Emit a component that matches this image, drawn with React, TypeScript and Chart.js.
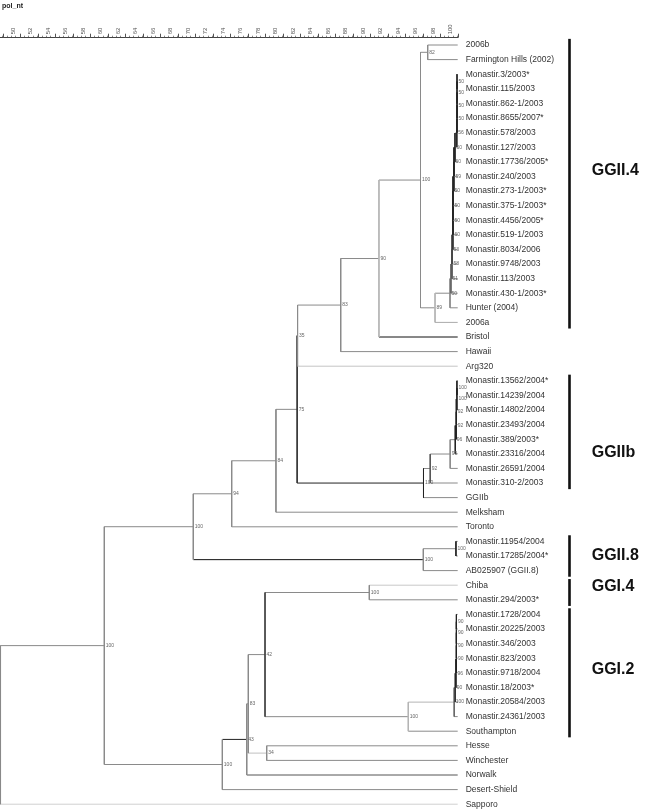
import React, { useEffect, useRef } from "react";
import { Chart, registerables } from "chart.js";

Chart.register(...registerables);

const TITLE = "pol_nt";

// Leaves, top to bottom
const LEAVES: string[] = [
  "2006b",
  "Farmington Hills (2002)",
  "Monastir.3/2003*",
  "Monastir.115/2003",
  "Monastir.862-1/2003",
  "Monastir.8655/2007*",
  "Monastir.578/2003",
  "Monastir.127/2003",
  "Monastir.17736/2005*",
  "Monastir.240/2003",
  "Monastir.273-1/2003*",
  "Monastir.375-1/2003*",
  "Monastir.4456/2005*",
  "Monastir.519-1/2003",
  "Monastir.8034/2006",
  "Monastir.9748/2003",
  "Monastir.113/2003",
  "Monastir.430-1/2003*",
  "Hunter (2004)",
  "2006a",
  "Bristol",
  "Hawaii",
  "Arg320",
  "Monastir.13562/2004*",
  "Monastir.14239/2004",
  "Monastir.14802/2004",
  "Monastir.23493/2004",
  "Monastir.389/2003*",
  "Monastir.23316/2004",
  "Monastir.26591/2004",
  "Monastir.310-2/2003",
  "GGIIb",
  "Melksham",
  "Toronto",
  "Monastir.11954/2004",
  "Monastir.17285/2004*",
  "AB025907 (GGII.8)",
  "Chiba",
  "Monastir.294/2003*",
  "Monastir.1728/2004",
  "Monastir.20225/2003",
  "Monastir.346/2003",
  "Monastir.823/2003",
  "Monastir.9718/2004",
  "Monastir.18/2003*",
  "Monastir.20584/2003",
  "Monastir.24361/2003",
  "Southampton",
  "Hesse",
  "Winchester",
  "Norwalk",
  "Desert-Shield",
  "Sapporo",
];

// Internal nodes: id, children (leaf index or node id), similarity level (%), node label
const NODE_IDS: string[] = [
  "c1", "c2", "c3", "c4", "c5", "c6", "c7", "c8", "c9", "c10", "c11", "c12", "c13", "c14", "c15", "c16",
  "h89", "h82", "hX", "h90", "h83", "h35",
  "b1", "b2", "b3", "b4", "b5", "b6", "b7", "b8",
  "h75", "h84", "h94", "g8a", "g8b", "hP", "g4",
  "e1", "e2", "e3", "e4", "e5", "e6", "e7",
  "hF", "hC", "hD", "hB", "hA", "hQ", "hR", "root",
];
const NODE_CHILDREN: [number | string, number | string][] = [
  [2, 3], ["c1", 4], ["c2", 5], ["c3", 6], ["c4", 7], ["c5", 8], ["c6", 9], ["c7", 10],
  ["c8", 11], ["c9", 12], ["c10", 13], ["c11", 14], ["c12", 15], ["c13", 16], ["c14", 17], ["c15", 18],
  ["c16", 19], [0, 1], ["h82", "h89"], ["hX", 20], ["h90", 21], ["h83", 22],
  [23, 24], ["b1", 25], ["b2", 26], ["b3", 27], ["b4", 28], ["b5", 29], ["b6", 30], ["b7", 31],
  ["h35", "b8"], ["h75", 32], ["h84", 33], [34, 35], ["g8a", 36], ["h94", "g8b"], [37, 38],
  [39, 40], ["e1", 41], ["e2", 42], ["e3", 43], ["e4", 44], ["e5", 45], ["e6", 46],
  ["e7", 47], ["g4", "hF"], [48, 49], ["hC", "hD"], ["hB", 50], ["hA", 51], ["hP", "hQ"], ["hR", 52],
];
const NODE_LEVELS: number[] = [
  99.92, 99.92, 99.92, 99.92, 99.9, 99.69, 99.57, 99.57, 99.46, 99.46, 99.46, 99.46, 99.35, 99.35, 99.23, 99.12,
  97.41, 96.57, 95.75, 91.0, 86.63, 81.7,
  99.91, 99.91, 99.84, 99.84, 99.72, 99.14, 96.86, 96.09,
  81.65, 79.23, 74.17, 99.8, 96.07, 69.78, 89.9,
  99.85, 99.85, 99.85, 99.85, 99.8, 99.72, 99.6,
  94.35, 77.98, 78.17, 76.07, 75.89, 73.1, 59.61, 47.75,
];
const NODE_SUPPORT: string[] = [
  "50", "50", "50", "50", "56", "50", "60", "59", "50", "50", "50", "60", "53", "58", "51", "50",
  "89", "82", "100", "90", "83", "35",
  "100", "100", "92", "92", "96", "99", "92", "100",
  "75", "84", "94", "100", "100", "100", "100",
  "90", "90", "90", "90", "96", "90", "100",
  "100", "42", "34", "83", "43", "100", "100", "",
];

const X_TICK_LABELS: number[] = [
  48, 50, 52, 54, 56, 58, 60, 62, 64, 66, 68, 70, 72, 74, 76, 78, 80, 82, 84, 86, 88, 90, 92, 94, 96, 98, 100,
];

const GROUP_NAMES: string[] = ["GGII.4", "GGIIb", "GGII.8", "GGI.4", "GGI.2"];
const GROUP_FIRST_LEAF: number[] = [0, 23, 34, 37, 39];
const GROUP_LAST_LEAF: number[] = [19, 30, 36, 38, 47];

// ---- layout / style (not data) ----
const W = 651;
const H = 809;
const PLOT_RIGHT = 457.7;
const AXIS_Y = 37.7;
const GROUP_LABEL_ROW = [8.6, 27.9, 35.0, 37.1, 42.8];
const FONT = "'Liberation Sans', Arial, Helvetica, sans-serif";
const GRAY = "#8a8a8a";
const VERT_COLORS: Record<string, string> = {
  c1: "#222", c2: "#222", c3: "#222", c4: "#222", c5: "#222", c6: "#222", c7: "#222", c8: "#222",
  c9: "#222", c10: "#222", c11: "#222", c12: "#333", c13: "#444", c14: "#555", c15: "#666", c16: "#888",
  b1: "#222", b2: "#222", b3: "#222", b4: "#222", b5: "#222", b8: "#222", b7: "#555",
  e1: "#222", e2: "#222", e3: "#222", e4: "#222", e5: "#222", e6: "#333", e7: "#666",
  g8a: "#222", hC: "#444", h75: "#333",
  h90: "#b4b4b4", h89: "#b4b4b4", hF: "#b4b4b4",
};
const HORIZ_COLORS: Record<string, string> = {
  "20": "#111", g8b: "#111", b8: "#222", hA: "#222", "50": "#555",
  "22": "#c4c4c4", "37": "#c8c8c8", "52": "#d0d0d0", hD: "#c0c0c0", "19": "#aaaaaa", e7: "#b4b4b4",
};

export default function App() {
  const ref = useRef<HTMLCanvasElement>(null);

  useEffect(() => {
    const canvas = ref.current;
    if (!canvas) return;

    const idx = new Map<string, number>();
    NODE_IDS.forEach((id, i) => idx.set(id, i));
    const yMemo = new Map<string, number>();
    const yOf = (c: number | string): number => {
      if (typeof c === "number") return c;
      if (yMemo.has(c)) return yMemo.get(c)!;
      const [a, b] = NODE_CHILDREN[idx.get(c)!];
      const v = (yOf(a) + yOf(b)) / 2;
      yMemo.set(c, v);
      return v;
    };
    const levelOf = (c: number | string): number =>
      typeof c === "number" ? 100 : NODE_LEVELS[idx.get(c)!];

    const datasets: any[] = [];
    NODE_IDS.forEach((id, i) => {
      const [a, b] = NODE_CHILDREN[i];
      const lv = NODE_LEVELS[i];
      datasets.push({
        data: [{ x: lv, y: yOf(a) }, { x: lv, y: yOf(b) }],
        borderColor: VERT_COLORS[id] || GRAY,
      });
      [a, b].forEach((c) => {
        datasets.push({
          data: [{ x: lv, y: yOf(c) }, { x: levelOf(c), y: yOf(c) }],
          borderColor: HORIZ_COLORS[String(c)] || GRAY,
        });
      });
    });

    const xTicks: number[] = [];
    for (let v = 48; v <= 100; v += 0.5) xTicks.push(v);

    const decor = {
      id: "decor",
      afterDraw(chart: any) {
        const ctx = chart.ctx;
        const xs = chart.scales.x;
        const ys = chart.scales.y;
        const top = chart.chartArea.top;
        ctx.save();
        // major ticks
        ctx.strokeStyle = "#555";
        ctx.lineWidth = 1;
        X_TICK_LABELS.forEach((v) => {
          const x = Math.round(xs.getPixelForValue(v)) + 0.5;
          ctx.beginPath();
          ctx.moveTo(x, top);
          ctx.lineTo(x, top - 4);
          ctx.stroke();
        });
        // node labels
        ctx.fillStyle = "#666";
        ctx.font = `5px ${FONT}`;
        ctx.textBaseline = "middle";
        ctx.textAlign = "left";
        NODE_IDS.forEach((id, i) => {
          const s = NODE_SUPPORT[i];
          if (!s) return;
          ctx.fillText(s, xs.getPixelForValue(NODE_LEVELS[i]) + 1.5, ys.getPixelForValue(yOf(id)));
        });
        // group bars and names
        ctx.fillStyle = "#111";
        GROUP_NAMES.forEach((g, i) => {
          const y1 = ys.getPixelForValue(GROUP_FIRST_LEAF[i] - 0.42);
          const y2 = ys.getPixelForValue(GROUP_LAST_LEAF[i] + 0.42);
          ctx.fillRect(PLOT_RIGHT + 110.5, y1, 2.6, y2 - y1);
          ctx.font = `bold 16px ${FONT}`;
          ctx.textBaseline = "middle";
          ctx.fillText(g, PLOT_RIGHT + 134, ys.getPixelForValue(GROUP_LABEL_ROW[i]));
        });
        // title
        ctx.font = `bold 7px ${FONT}`;
        ctx.fillStyle = "#222";
        ctx.textBaseline = "middle";
        ctx.fillText(TITLE, 2, 6.5);
        ctx.restore();
      },
    };

    const chart = new Chart(canvas, {
      type: "scatter",
      data: { datasets },
      options: {
        animation: false,
        responsive: false,
        devicePixelRatio: 1,
        events: [],
        layout: { padding: 0 },
        plugins: {
          legend: { display: false },
          tooltip: { enabled: false },
          title: { display: false },
        },
        elements: { point: { radius: 0 }, line: { borderWidth: 1, tension: 0 } },
        datasets: {
          scatter: { showLine: true, clip: false as any, pointRadius: 0, borderWidth: 1 },
        },
        scales: {
          x: {
            type: "linear",
            position: "top",
            min: 47.69,
            max: 100,
            afterBuildTicks: (s: any) => {
              s.ticks = xTicks.map((v) => ({ value: v }));
            },
            afterFit: (s: any) => {
              s.height = AXIS_Y;
              s.paddingLeft = 0;
              s.paddingRight = 0;
            },
            ticks: {
              autoSkip: false,
              minRotation: 90,
              maxRotation: 90,
              padding: 1.4,
              font: { size: 6, family: FONT },
              color: "#555",
              callback: (v: any) => (Number.isInteger(v) && v % 2 === 0 ? String(v) : ""),
            },
            grid: { display: true, drawOnChartArea: false, drawTicks: true, tickLength: 2, color: "#888" },
            border: { display: true, color: "#444", width: 1 },
          },
          y: {
            type: "linear",
            position: "right",
            reverse: true,
            min: -0.5,
            max: -0.5 + (H - AXIS_Y) / 14.6,
            afterBuildTicks: (s: any) => {
              s.ticks = LEAVES.map((_, i) => ({ value: i }));
            },
            afterFit: (s: any) => {
              s.width = W - PLOT_RIGHT;
              s.paddingTop = 0;
              s.paddingBottom = 0;
            },
            ticks: {
              autoSkip: false,
              padding: 8,
              font: { size: 8.5, family: FONT },
              color: "#333",
              callback: (_v: any, i: number) => LEAVES[i] ?? "",
            },
            grid: { display: false, drawTicks: false, tickLength: 0 },
            border: { display: false },
          },
        },
      } as any,
      plugins: [decor],
    });

    return () => chart.destroy();
  }, []);

  return (
    <div style={{ position: "absolute", left: 0, top: 0, width: W, height: H, background: "#fff" }}>
      <canvas ref={ref} width={W} height={H} style={{ display: "block", width: W, height: H }} />
    </div>
  );
}
